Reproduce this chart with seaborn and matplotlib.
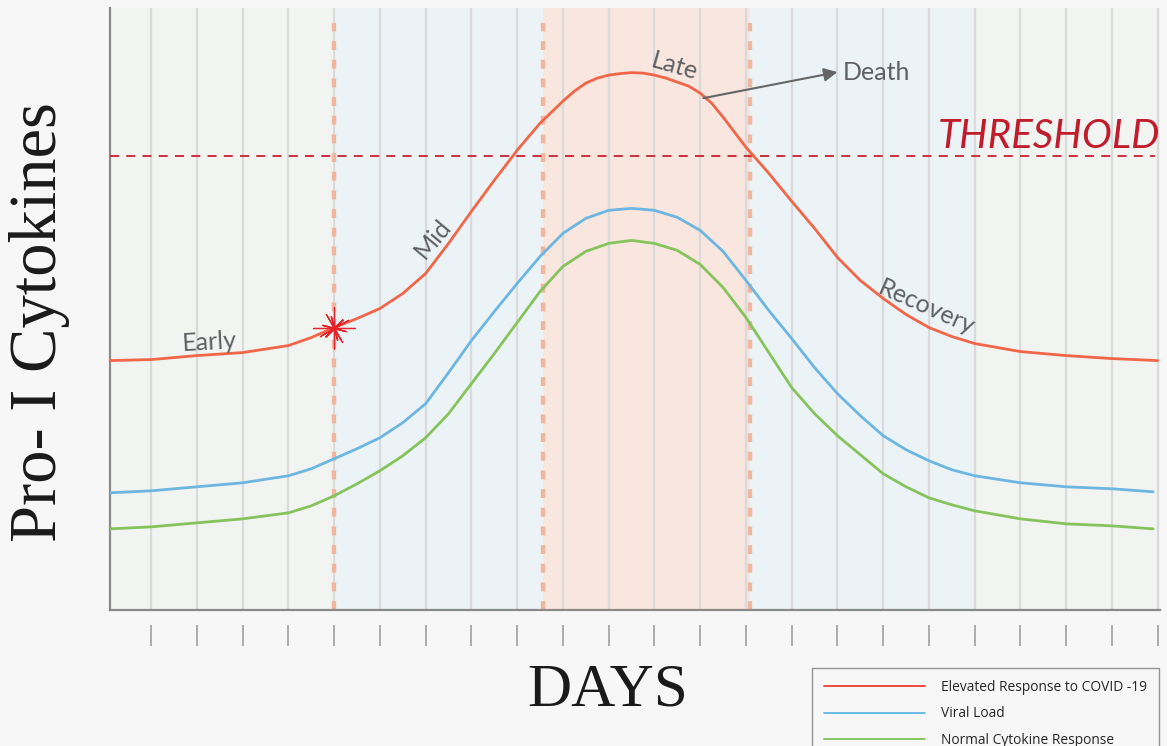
import numpy as np
import pandas as pd
import matplotlib.pyplot as plt
import seaborn as sns
from matplotlib.lines import Line2D

# curve data (arbitrary cytokine level units)
red_x = [0.1, 1, 2, 3, 4, 4.5, 5, 5.5, 6, 6.5, 7, 7.5, 8, 8.5, 9, 9.5, 10, 10.25, 10.5, 10.75, 11, 11.25, 11.5,
         11.75, 12, 12.25, 12.5, 12.75, 13, 13.25, 13.5, 14, 14.5, 15, 15.5, 16, 16.5, 17, 17.5, 18, 18.5,
         19, 20, 21, 22, 23]
red_y = [249, 250, 254, 257, 264, 272, 282, 291, 301, 316, 336, 366, 398, 429, 459, 486, 508, 518, 526, 531, 534, 535.5, 536.5,
         536, 534, 531, 527, 523, 516, 506, 492, 462, 436, 408, 381, 352, 329, 311, 295, 282, 273,
         266, 258, 254, 251, 249]

bg_x = [0.1, 1, 2, 3, 4, 4.5, 5, 5.5, 6, 6.5, 7, 7.5, 8, 8.5, 9, 9.5, 10, 10.5, 11, 11.5,
        12, 12.5, 13, 13.5, 14, 14.5, 15, 15.5, 16, 16.5, 17, 17.5, 18, 18.5, 19, 20, 21, 22, 22.9]
blue_y = [117, 119, 123, 127, 134, 141, 151, 161, 172, 187, 206, 237, 269, 298, 326, 353, 376, 391, 399, 401,
          399, 392, 379, 358, 329, 299, 271, 242, 216, 194, 174, 160, 149, 140, 134, 127, 123, 121, 118]
green_y = [81, 83, 87, 91, 97, 104, 114, 126, 139, 154, 172, 196, 226, 256, 287, 318, 343, 358, 366, 369,
           366, 359, 345, 322, 292, 257, 222, 196, 174, 155, 136, 123, 112, 105, 99, 91, 86, 84, 81]

threshold = 453
phase_bounds = [5.0, 9.565, 14.09]
star_day, star_level = 5, 282
days = list(range(1, 24))
labels = ["Elevated Response to COVID -19", "Viral Load", "Normal Cytokine Response"]

sns.set_style("white")
plt.rcParams['font.family'] = ['Lato', 'DejaVu Sans']

fig = plt.figure(figsize=(11.67, 7.46), dpi=100, facecolor='#f7f7f7')
ax = fig.add_axes([110/1167, 136/746, 1050/1167, 602/746])
ax.set_facecolor('#f2f4f1')

# background phases
ax.axvspan(phase_bounds[0], phase_bounds[1], color='#ebf3f7', zorder=0, lw=0)
ax.axvspan(phase_bounds[1], phase_bounds[2], color='#f8e6df', zorder=0, lw=0)
ax.axvspan(phase_bounds[2], 19.0, color='#ebf3f7', zorder=0, lw=0)

ax.set_axisbelow(True)
ax.set_xticks(days)
ax.set_yticks([])
ax.tick_params(length=0, labelbottom=False)
ax.grid(axis='x', color='#dadada', lw=1.6)

ax.vlines(phase_bounds, 0, 586, colors='#f2b6a0', lw=3.2, linestyles=(0, (2, 2.2)), zorder=2)
ax.hlines(threshold, 0.1, 22.95, colors='#c8202f', lw=1.3, linestyles=(0, (5, 4)), zorder=3)

sns.lineplot(x=bg_x, y=green_y, ax=ax, color='#86c35c', lw=2, zorder=4)
sns.lineplot(x=bg_x, y=blue_y, ax=ax, color='#6db6e2', lw=2, zorder=4)
sns.lineplot(x=red_x, y=red_y, ax=ax, color='#f26648', lw=2, zorder=5)

# red starburst
ax.plot(star_day, star_level, marker=(4, 2, 0), ms=30, mew=0.9, color='#e8202a', zorder=6)
ax.plot(star_day, star_level, marker=(4, 2, 30), ms=24, mew=0.9, color='#e8202a', zorder=6)
ax.plot(star_day, star_level, marker=(6, 2, 15), ms=18, mew=1.0, color='#e8202a', zorder=6)
ax.plot(star_day, star_level, marker='o', ms=4, color='#e8202a', mew=0, zorder=6)

ax.set_xlim(0.1, 23.05)
ax.set_ylim(0, 601)
for s in ['top', 'right']:
    ax.spines[s].set_visible(False)
for s in ['left', 'bottom']:
    ax.spines[s].set_color('#8a8a8a')
    ax.spines[s].set_linewidth(1.6)

# ticks detached below the axis
sec = ax.secondary_xaxis(-0.025)
sec.set_xticks(days)
sec.tick_params(direction='out', length=15, width=1.2, color='#a0a0a0', labelbottom=False)
sec.spines['bottom'].set_visible(False)

# phase labels
tc = '#5e6065'
ax.text(2.27, 267, "Early", fontsize=18, color=tc, rotation=3, ha='center', va='center', zorder=7)
ax.text(7.16, 371, "Mid", fontsize=18, color=tc, rotation=50, ha='center', va='center', zorder=7)
ax.text(12.43, 543, "Late", fontsize=18, color=tc, rotation=-16, ha='center', va='center', zorder=7)
ax.text(17.95, 302, "Recovery", fontsize=18, color=tc, rotation=-24, ha='center', va='center', zorder=7)
ax.annotate("", xy=(16.0, 537), xytext=(13.07, 511), zorder=7,
            arrowprops=dict(arrowstyle='-|>', color='#666666', lw=1.5, mutation_scale=20,
                            shrinkA=0, shrinkB=0))
ax.text(16.12, 537, "Death", fontsize=18, color=tc, ha='left', va='center', zorder=7)
ax.text(23.05, 461, "THRESHOLD", fontsize=29, color='#c01c2c', style='italic',
        ha='right', va='baseline', zorder=7)

fig.text(40/1167, 1 - 322/746, "Pro- I Cytokines", fontsize=48, family='Liberation Serif',
         color='#1a1a1a', rotation=90, ha='center', va='center')
fig.text(608/1167, 1 - 691/746, "DAYS", fontsize=44, family='Liberation Serif', color='#1a1a1a',
         ha='center', va='center')

handles = [Line2D([], [], color=c, lw=1.3) for c in ['#ee3a35', '#64b5e6', '#7cc25a']]
leg = fig.legend(handles, labels, loc='upper left', bbox_to_anchor=(812/1167, 1 - 668/746),
                 frameon=True, fancybox=False, handlelength=7.4, handletextpad=1.15,
                 labelspacing=0.85, borderpad=0.85, borderaxespad=0,
                 prop={'family': 'Open Sans', 'size': 9.9})
leg.get_frame().set_edgecolor('#7a7a7a')
leg.get_frame().set_facecolor('#f7f7f7')
leg.get_frame().set_linewidth(1.0)

plt.savefig("out.png", dpi=100, facecolor=fig.get_facecolor())
